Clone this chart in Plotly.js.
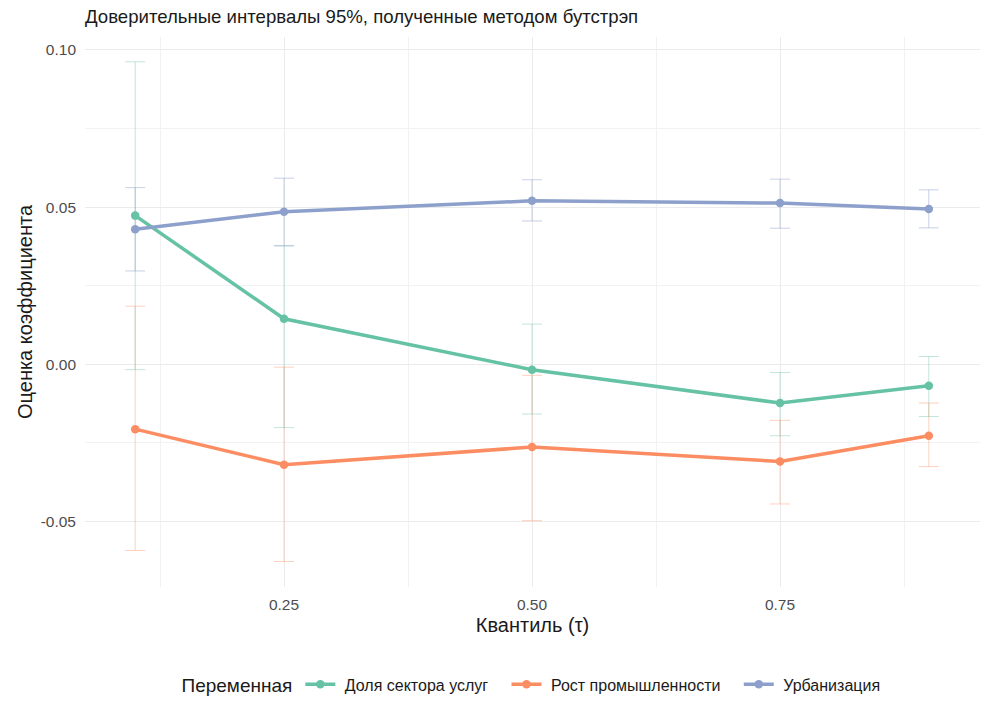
<!DOCTYPE html>
<html>
<head>
<meta charset="utf-8">
<script src="https://cdn.plot.ly/plotly-3.0.1.min.js"></script>
<style>html,body{margin:0;padding:0;background:#fff;}#chart{width:993px;height:719px;}</style>
</head>
<body>
<div id="chart"></div>
<script>
const quantiles = [0.1, 0.25, 0.5, 0.75, 0.9];

const seriesNames = ["Доля сектора услуг", "Рост промышленности", "Урбанизация"];

const servicesEst = [0.0473, 0.0145, -0.0017, -0.0123, -0.0068];
const servicesLo  = [-0.0017, -0.0201, -0.0158, -0.0227, -0.0166];
const servicesHi  = [0.0962, 0.0377, 0.0128, -0.0026, 0.0025];

const industryEst = [-0.0206, -0.0319, -0.0263, -0.0309, -0.0227];
const industryLo  = [-0.0592, -0.0627, -0.0497, -0.0444, -0.0325];
const industryHi  = [0.0185, -0.0009, -0.0035, -0.0178, -0.0123];

const urbanEst = [0.0430, 0.0485, 0.0520, 0.0513, 0.0494];
const urbanLo  = [0.0297, 0.0377, 0.0456, 0.0433, 0.0434];
const urbanHi  = [0.0562, 0.0592, 0.0587, 0.0589, 0.0555];

const colors = ["#66C2A5", "#FC8D62", "#8DA0CB"];
const errColors = ["rgba(102,194,165,0.45)", "rgba(252,141,98,0.45)", "rgba(141,160,203,0.55)"];

const est = [servicesEst, industryEst, urbanEst];
const lo = [servicesLo, industryLo, urbanLo];
const hi = [servicesHi, industryHi, urbanHi];

const NB = "\u00a0";
const traces = [];
// error bars first (beneath lines)
for (let i = 0; i < 3; i++) {
  traces.push({
    x: quantiles, y: est[i], type: "scatter", mode: "markers",
    marker: {opacity: 0, size: 1, color: colors[i]},
    showlegend: false, hoverinfo: "skip",
    error_y: {
      type: "data", symmetric: false,
      array: hi[i].map((v, k) => v - est[i][k]),
      arrayminus: est[i].map((v, k) => v - lo[i][k]),
      color: errColors[i], thickness: 0.9, width: 10
    }
  });
}
for (let i = 0; i < 3; i++) {
  traces.push({
    x: quantiles, y: est[i], type: "scatter", mode: "lines+markers",
    name: NB + seriesNames[i] + (i < 2 ? NB + NB + NB : ""),
    line: {color: colors[i], width: 3.5},
    marker: {color: colors[i], size: 8.5}
  });
}

const layout = {
  width: 993, height: 719,
  paper_bgcolor: "#fff", plot_bgcolor: "#fff",
  font: {family: "Liberation Sans, Arial, sans-serif", color: "#333"},
  margin: {l: 85, r: 13, t: 37, b: 132},
  title: {text: "Доверительные интервалы 95%, полученные методом бутстрэп",
          x: 0, xref: "paper", xanchor: "left", y: 0.977, yanchor: "middle",
          font: {size: 18.6, color: "#1a1a1a"}},
  xaxis: {
    range: [0.0494, 0.9516], tickvals: [0.25, 0.5, 0.75], ticktext: ["0.25", "0.50", "0.75"],
    showgrid: true, gridcolor: "#EBEBEB", gridwidth: 1, zeroline: false, showline: false,
    ticks: "", tickfont: {size: 15.5, color: "#4D4D4D"}, ticklabelstandoff: 6,
    minor: {tickvals: [0.125, 0.375, 0.625, 0.875], showgrid: true, gridcolor: "#F2F2F2", gridwidth: 1},
    title: {text: "Квантиль (τ)", font: {size: 20, color: "#1a1a1a"}, standoff: 6}
  },
  yaxis: {
    range: [-0.0708, 0.1041], tickvals: [-0.05, 0, 0.05, 0.1], ticktext: ["-0.05", "0.00", "0.05", "0.10"],
    showgrid: true, gridcolor: "#EBEBEB", gridwidth: 1, zeroline: false, showline: false,
    ticks: "", tickfont: {size: 15.5, color: "#4D4D4D"}, ticklabelstandoff: 8,
    minor: {tickvals: [-0.025, 0.025, 0.075], showgrid: true, gridcolor: "#F2F2F2", gridwidth: 1},
    title: {text: "Оценка коэффициента", font: {size: 20, color: "#1a1a1a"}, standoff: 2}
  },
  legend: {
    orientation: "h", x: 0.5, xanchor: "center", y: -0.178, yanchor: "middle",
    title: {text: "Переменная", font: {size: 19, color: "#1a1a1a"}, side: "left"},
    font: {family: "Liberation Sans, Arial, sans-serif", size: 16, color: "#1a1a1a"},
    itemwidth: 30, tracegroupgap: 0
  },
  showlegend: true
};

Plotly.newPlot("chart", traces, layout, {displayModeBar: false, staticPlot: true});
</script>
</body>
</html>
